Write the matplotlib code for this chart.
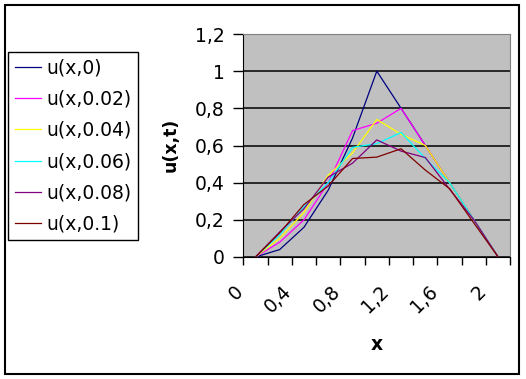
import matplotlib
matplotlib.use("Agg")
import matplotlib.pyplot as plt
from matplotlib.patches import Rectangle
from matplotlib.transforms import ScaledTranslation

# categories (x = 0 ... 2 step 0.2)
x_values = [0.0, 0.2, 0.4, 0.6, 0.8, 1.0, 1.2, 1.4, 1.6, 1.8, 2.0]
tick_values = [0.0, 0.4, 0.8, 1.2, 1.6, 2.0]
tick_labels = ["0", "0,4", "0,8", "1,2", "1,6", "2"]
ytick_values = [0, 0.2, 0.4, 0.6, 0.8, 1.0, 1.2]
ytick_labels = ["0", "0,2", "0,4", "0,6", "0,8", "1", "1,2"]

u_t0 = [0, 0.04, 0.16, 0.36, 0.64, 1.0, 0.8, 0.6, 0.4, 0.2, 0]
u_t002 = [0, 0.08, 0.2, 0.4, 0.68, 0.72, 0.8, 0.6, 0.4, 0.2, 0]
u_t004 = [0, 0.1, 0.24, 0.44, 0.56, 0.74, 0.66, 0.6, 0.4, 0.2, 0]
u_t006 = [0, 0.12, 0.27, 0.4, 0.59, 0.61, 0.67, 0.53, 0.4, 0.2, 0]
u_t008 = [0, 0.135, 0.26, 0.43, 0.505, 0.63, 0.57, 0.535, 0.365, 0.2, 0]
u_t01 = [0, 0.13, 0.2825, 0.3825, 0.53, 0.5375, 0.5825, 0.4675, 0.3675, 0.1825, 0]

series = [
    ("u(x,0)", u_t0, "#000080"),
    ("u(x,0.02)", u_t002, "#FF00FF"),
    ("u(x,0.04)", u_t004, "#FFFF00"),
    ("u(x,0.06)", u_t006, "#00FFFF"),
    ("u(x,0.08)", u_t008, "#800080"),
    ("u(x,0.1)", u_t01, "#800000"),
]

plt.rcParams["font.family"] = "DejaVu Sans"
FS = 13.5

fig = plt.figure(figsize=(5.26, 3.79), dpi=100)
fig.patches.append(Rectangle((5 / 526, 5 / 379), 514 / 526, 369 / 379,
                             transform=fig.transFigure, fill=False,
                             edgecolor="black", linewidth=1.5))

ax = fig.add_axes([243.3 / 526, 1 - 257 / 379, 267 / 526, 223 / 379])
ax.set_facecolor("#C0C0C0")

for label, values, color in series:
    ax.plot(x_values, values, color=color, linewidth=0.9, label=label)

ax.set_xlim(-0.1, 2.1)
ax.set_ylim(0, 1.2)

ax.set_yticks(ytick_values)
ax.set_yticklabels(ytick_labels, fontsize=FS)
ax.yaxis.grid(True, color="black", linewidth=1.1)
ax.set_axisbelow(True)
ax.tick_params(axis="y", length=7.2, width=1, direction="out", pad=6)

# category boundaries as tick marks, labels at category centres
boundaries = [v - 0.1 for v in x_values] + [x_values[-1] + 0.1]
ax.set_xticks(boundaries, minor=True)
ax.tick_params(axis="x", which="minor", length=5.8, width=1, direction="out")
ax.set_xticks(tick_values)
ax.set_xticklabels(tick_labels, fontsize=FS)
ax.tick_params(axis="x", which="major", length=0, pad=18)
offset = ScaledTranslation(-22 / 100, 0, fig.dpi_scale_trans)
for lab in ax.get_xticklabels():
    lab.set_rotation(45)
    lab.set_ha("right")
    lab.set_va("top")
    lab.set_rotation_mode("anchor")
    lab.set_transform(lab.get_transform() + offset)

for side in ["top", "right"]:
    ax.spines[side].set_color("#808080")
for side in ["left", "bottom"]:
    ax.spines[side].set_color("black")

fig.text(171 / 526, 1 - 145 / 379, "u(x,t)", rotation=90, ha="center",
         va="center", fontsize=12.5, fontweight="bold")
fig.text(377 / 526, 1 - 344 / 379, "x", ha="center", va="center",
         fontsize=FS, fontweight="bold")

handles, labels = ax.get_legend_handles_labels()
leg = fig.legend(handles, labels, loc="upper left",
                 bbox_to_anchor=(8 / 526, 1 - 52 / 379), borderaxespad=0,
                 fontsize=FS, frameon=True, fancybox=False, framealpha=1,
                 edgecolor="black", handlelength=1.4, handletextpad=0.3,
                 labelspacing=0.65, borderpad=0.35)
leg.get_frame().set_linewidth(1.0)

fig.savefig("out.png", dpi=100)
